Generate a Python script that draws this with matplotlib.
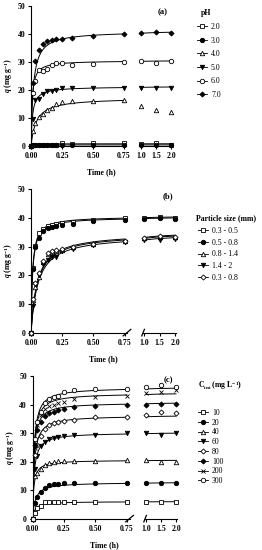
import matplotlib
matplotlib.use("Agg")
import matplotlib.pyplot as plt
from matplotlib.lines import Line2D
import numpy as np

plt.rcParams['font.family'] = ['Liberation Serif', 'DejaVu Serif']
plt.rcParams['mathtext.fontset'] = 'custom'
plt.rcParams['mathtext.rm'] = 'Liberation Serif'
plt.rcParams['mathtext.it'] = 'Liberation Serif:italic'
plt.rcParams['mathtext.bf'] = 'Liberation Serif:bold'
plt.rcParams['mathtext.bfit'] = 'Liberation Serif:italic:bold'

# sampling times (h)
t_short = [0, 0.017, 0.033, 0.067, 0.1, 0.133, 0.167, 0.2, 0.25, 0.333, 0.5, 0.75]
t_long = [1.0, 1.5, 2.0]

# (a) effect of pH
ph_labels = ['2.0', '3.0', '4.0', '5.0', '6.0', '7.0']
ph_short = [
    [0, 0.3, 0.3, 0.3, 0.3, 0.3, 0.3, 0.4, 0.9, 0.8, 0.9, 0.9],
    [0, 0.2, 0.3, 0.3, 0.3, 0.3, 0.3, 0.3, 0.4, 0.4, 0.4, 0.4],
    [0, 5.2, 8.2, 10.3, 11.5, 12.7, 13.6, 15.1, 15.6, 16.1, 16.2, 16.3],
    [0, 9.8, 16.4, 16.9, 18.7, 19.5, 19.6, 20.0, 20.6, 20.8, 20.8, 20.8],
    [0, 18.9, 23.2, 27.0, 26.8, 27.6, 28.8, 29.5, 29.7, 29.1, 29.4, 30.1],
    [0, 22.6, 30.2, 34.4, 36.3, 37.6, 38.0, 38.1, 38.3, 38.6, 39.4, 40.0],
]
ph_long = [[0.6, 1.2, 0.5], [0.4, 0.5, 0.4], [14.4, 13.0, 12.2],
           [20.8, 20.8, 20.8], [30.3, 29.6, 30.2], [40.2, 40.6, 40.4]]
# pseudo-second-order fit parameters: qe (mg/g), initial rate h (mg/g/h)
ph_qe = [0.8, 0.4, 17.2, 21.2, 30.5, 41.0]
ph_h = [60, 40, 400, 1716, 3524, 2236]
ph_fit_long = [True, True, False, True, True, True]

# (b) effect of particle size
ps_labels = ['0.3 - 0.5', '0.5 - 0.8', '0.8 - 1.4', '1.4 - 2', '0.3 - 0.8']
ps_short = [
    [0, 22.6, 30.1, 34.6, 36.1, 37.1, 37.5, 37.7, 38.3, 38.5, 39.4, 40.0],
    [0, 22.3, 29.8, 33.0, 35.5, 36.5, 36.9, 37.0, 37.5, 38.0, 38.9, 39.4],
    [0, 11.4, 16.0, 19.5, 24.7, 27.6, 28.2, 28.5, 28.8, 29.8, 30.8, 31.8],
    [0, 9.5, 17.0, 20.0, 24.0, 25.2, 26.3, 26.5, 28.3, 29.2, 30.5, 31.5],
    [0, 11.8, 17.2, 21.0, 25.0, 27.8, 28.4, 28.8, 29.0, 29.8, 31.0, 32.0],
]
ps_long = [[40.0, 40.4, 40.1], [39.6, 39.8, 39.6], [33.0, 33.3, 33.5],
           [32.2, 32.4, 32.5], [33.1, 33.6, 33.5]]
ps_qe = [40.5, 40.2, 34.5, 34.0, 34.8]
ps_h = [3471, 3200, 670, 620, 700]

# (c) effect of initial concentration
c_labels = ['10', '20', '40', '60', '80', '100', '200', '300']
c_short = [
    [0, 2.0, 3.7, 4.5, 5.8, 5.9, 5.9, 5.9, 6.0, 6.0, 6.0, 6.0],
    [0, 5.5, 7.8, 9.5, 11.0, 11.8, 12.2, 12.4, 12.5, 12.5, 12.5, 12.5],
    [0, 15.0, 16.0, 17.5, 19.0, 19.5, 20.0, 20.2, 20.3, 20.3, 20.3, 20.5],
    [0, 17.5, 22.0, 25.5, 27.0, 27.8, 28.2, 28.8, 29.0, 29.5, 29.5, 30.0],
    [0, 22.5, 26.0, 29.0, 31.5, 33.0, 33.6, 34.0, 34.3, 34.6, 35.5, 35.5],
    [0, 26.0, 31.0, 34.0, 36.0, 37.0, 37.5, 38.0, 38.5, 39.0, 39.5, 40.0],
    [0, 25.0, 33.0, 36.5, 38.5, 39.5, 40.0, 40.5, 41.0, 42.0, 42.5, 43.0],
    [0, 28.0, 34.0, 37.5, 40.5, 42.0, 42.5, 43.0, 44.5, 45.0, 45.5, 45.5],
]
c_long = [[6.0, 6.0, 6.0], [12.5, 12.5, 12.5], [20.5, 19.8, 20.0], [30.0, 29.3, 30.0],
          [36.5, 37.5, 37.0], [40.0, 40.3, 40.3], [44.0, 44.5, 45.0], [46.0, 47.0, 46.0]]
c_qe = [6.1, 12.8, 20.6, 30.2, 36.2, 40.7, 44.0, 46.0]
c_h = [349, 600, 2150, 2430, 2770, 3900, 3960, 3910]

# marker styles: (marker, filled)
STY = {'sq': ('s', False), 'ci': ('o', True), 'tu': ('^', False), 'td': ('v', True),
       'di': ('D', False), 'fd': ('D', True), 'x': ('x', True), 'oc': ('o', False)}
ph_sty = ['sq', 'ci', 'tu', 'td', 'oc', 'fd']
ps_sty = ['sq', 'ci', 'tu', 'td', 'di']
c_sty = ['sq', 'ci', 'tu', 'td', 'di', 'fd', 'x', 'oc']

W, H = 262, 550
fig = plt.figure(figsize=(W / 100, H / 100), dpi=100)
FS = 5.6


def mk(style):
    m, filled = STY[style]
    ms = 2.6 if m == 'D' else 3.2
    return dict(marker=m, ms=ms, mfc='black' if filled else 'white', mec='black',
                mew=0.6, ls='none', clip_on=False, zorder=4)


def add_ax(l, r, top, bot):
    return fig.add_axes([l / W, 1 - bot / H, (r - l) / W, (bot - top) / H])


def pso(t, qe, h):
    return qe * h * t / (qe + h * t)


def panel(top, bot, x0, x075, x1, x2, shorts, longs, qes, hs, styles, fit_long,
          letter, letter_xy, breaks):
    k1 = (x075 - x0) / 0.75
    ax1 = add_ax(x0, x0 + 0.77 * k1, top, bot)
    k2 = (x2 - x1) / 1.0
    ax2 = add_ax(x1 - 0.03 * k2, x2 + 0.03 * k2, top, bot)
    ax1.set_xlim(0, 0.77)
    ax2.set_xlim(0.97, 2.03)
    for ax in (ax1, ax2):
        ax.set_ylim(0, 50)
        ax.patch.set_alpha(0)
        for s in ('top', 'right'):
            ax.spines[s].set_visible(False)
        for s in ('left', 'bottom'):
            ax.spines[s].set_linewidth(0.8)
        ax.tick_params(length=2.5, width=0.8, labelsize=FS, pad=1.5)
    ax2.spines['left'].set_visible(False)
    ax2.set_yticks([])
    ax1.set_yticks(np.arange(0, 51, 10))
    ax1.set_xticks([0, 0.25, 0.5, 0.75])
    ax1.set_xticklabels(['0.00', '0.25', '0.50', '0.75'], fontweight='bold')
    ax1.set_yticklabels([str(v) for v in range(0, 51, 10)], fontweight='bold')
    ax2.set_xticks([1.0, 1.5, 2.0])
    ax2.set_xticklabels(['1.0', '1.5', '2.0'], fontweight='bold')

    tt1 = np.linspace(0, 0.75, 300)
    tt2 = np.linspace(1.0, 2.0, 50)
    for i in range(len(shorts)):
        ax1.plot(tt1, pso(tt1, qes[i], hs[i]), color='black', lw=0.7, zorder=2)
        if fit_long[i]:
            ax2.plot(tt2, pso(tt2, qes[i], hs[i]), color='black', lw=0.7, zorder=2)
        ax1.plot(t_short, shorts[i], **mk(styles[i]))
        ax2.plot(t_long, longs[i], **mk(styles[i]))

    ax1.set_ylabel(r'$\mathbfit{q}$ (mg g$^{\mathbf{-1}}$)', fontsize=FS,
                   fontweight='bold', labelpad=2)
    fig.text((x0 + x2) / 2 / W, 1 - (bot + 26) / H, 'Time (h)', fontsize=FS,
             fontweight='bold', ha='center', va='center')
    fig.text(letter_xy[0] / W, 1 - letter_xy[1] / H, letter, fontsize=6.2,
             fontweight='bold', ha='center', va='center')
    if breaks:
        for ax, xa in ((ax1, 1.0), (ax2, 0.0)):
            ax.plot([xa - 0.04, xa + 0.04], [-0.02, 0.025], transform=ax.transAxes,
                    color='black', lw=0.9, clip_on=False)
    return ax1, ax2


def legend(labels, styles, title, title_xy, title_ha, x, y_first, spacing):
    fig.text(title_xy[0] / W, 1 - title_xy[1] / H, title, fontsize=FS,
             fontweight='bold', ha=title_ha, va='center')
    handles = []
    for s in styles:
        kw = mk(s)
        kw.pop('clip_on')
        kw.pop('zorder')
        kw['ls'] = '-'
        handles.append(Line2D([], [], color='black', lw=0.6, **kw))
    lg = fig.legend(handles, labels, loc='upper left',
                    bbox_to_anchor=(x / W, 1 - (y_first - 4) / H), frameon=False,
                    fontsize=FS, handlelength=1.3, handletextpad=0.5,
                    labelspacing=spacing, borderpad=0, borderaxespad=0)
    return lg


panel(6, 146, 31, 124, 141, 171, ph_short, ph_long, ph_qe, ph_h, ph_sty,
      ph_fit_long, '(a)', (163, 12), False)
panel(189, 333, 31, 124.5, 144, 175, ps_short, ps_long, ps_qe, ps_h, ps_sty,
      [True] * 5, '(b)', (168, 196), True)
panel(376, 519, 32.5, 127, 146, 176, c_short, c_long, c_qe, c_h, c_sty,
      [True] * 8, '(c)', (168, 380), True)

legend(ph_labels, ph_sty, 'pH', (206, 13), 'center', 197, 27, 0.72)
legend(ps_labels, ps_sty, 'Particle size (mm)', (196, 218), 'left', 198, 231, 0.47)
legend(c_labels, c_sty, r'$\mathbf{C_{ini}}$ (mg L$^{\mathbf{-1}}$)', (198, 386),
       'left', 198, 413, 0.22)

fig.savefig('out.png', dpi=100)
